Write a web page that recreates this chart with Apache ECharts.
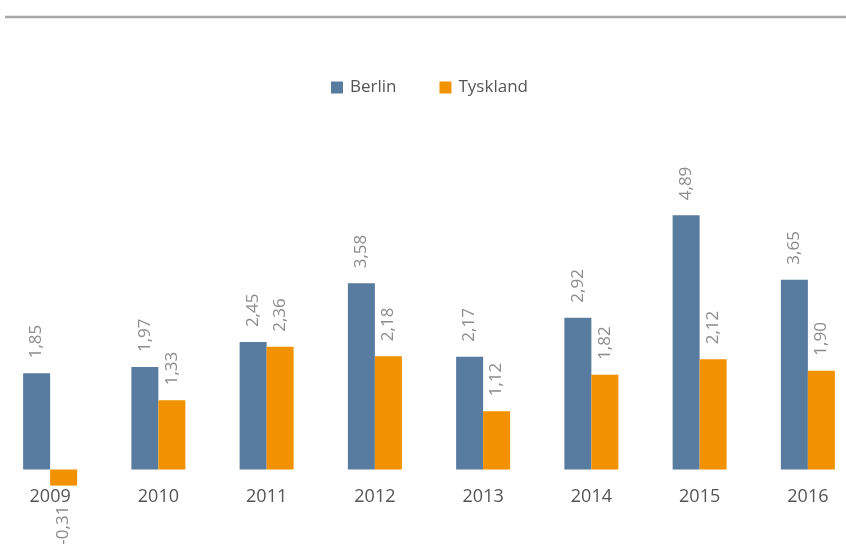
<!DOCTYPE html>
<html>
<head>
<meta charset="utf-8">
<script src="https://cdn.jsdelivr.net/npm/echarts@6/dist/echarts.min.js"></script>
<style>
  html, body { margin: 0; padding: 0; background: #fff; }
  #chart { width: 846px; height: 548px; }
</style>
</head>
<body>
<div id="chart"></div>
<script>
var years = ['2009', '2010', '2011', '2012', '2013', '2014', '2015', '2016'];
var berlin = [1.85, 1.97, 2.45, 3.58, 2.17, 2.92, 4.89, 3.65];
var tyskland = [-0.31, 1.33, 2.36, 2.18, 1.12, 1.82, 2.12, 1.90];

function fmt(p) {
    return p.value.toFixed(2).replace('.', ',');
}

// negative bars get their label below the bar
function toData(arr) {
    return arr.map(function (v) {
        if (v < 0) {
            return { value: v, label: { position: 'bottom', align: 'right', distance: 20 } };
        }
        return v;
    });
}

var labelStyle = {
    show: true,
    position: 'top',
    rotate: 90,
    align: 'left',
    verticalAlign: 'middle',
    distance: 15,
    color: '#8c8c8c',
    fontSize: 17,
    fontFamily: 'Open Sans',
    formatter: fmt
};

var chart = echarts.init(document.getElementById('chart'));
chart.setOption({
    backgroundColor: '#fff',
    animation: false,
    graphic: [{
        type: 'line',
        shape: { x1: 5, y1: 17, x2: 846, y2: 17 },
        style: { stroke: '#a8a8a8', lineWidth: 2.5 }
    }],
    legend: {
        left: 326,
        top: 74,
        itemWidth: 12,
        itemHeight: 12,
        itemGap: 43,
        icon: 'rect',
        textStyle: { color: '#555', fontSize: 17, fontFamily: 'Open Sans', padding: [0, 0, 0, 2] },
        data: ['Berlin', 'Tyskland']
    },
    grid: { left: -4, width: 866, top: 209.5, bottom: 52.5, outerBoundsMode: 'none', containLabel: false },
    xAxis: {
        type: 'category',
        data: years,
        axisLine: { show: false },
        axisTick: { show: false },
        // labels sit just under the zero line
        axisLabel: { color: '#555', fontSize: 18, fontFamily: 'Open Sans', margin: -8 }
    },
    yAxis: {
        type: 'value',
        min: -0.5,
        max: 5,
        show: false,
        splitLine: { show: false }
    },
    series: [{
        name: 'Berlin',
        type: 'bar',
        barWidth: 27,
        barGap: '0%',
        itemStyle: { color: '#587ba0' },
        label: labelStyle,
        data: toData(berlin)
    }, {
        name: 'Tyskland',
        type: 'bar',
        barWidth: 27,
        barGap: '0%',
        itemStyle: { color: '#f39200' },
        label: labelStyle,
        data: toData(tyskland)
    }]
});
</script>
</body>
</html>
